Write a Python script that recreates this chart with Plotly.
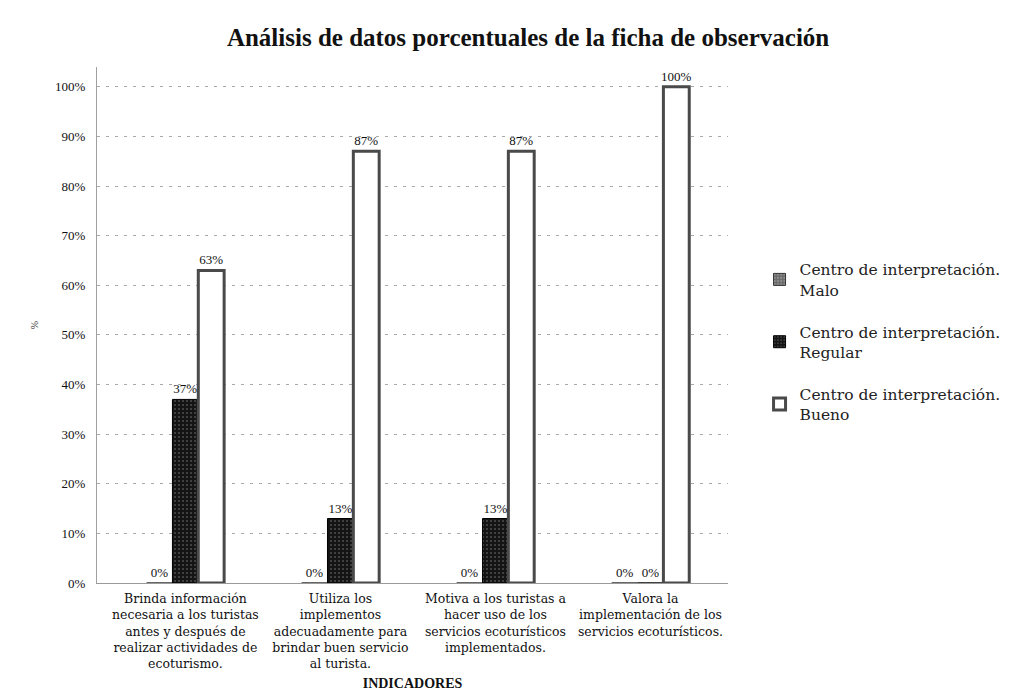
import plotly.graph_objects as go

title = "Análisis de datos porcentuales de la ficha de observación"
categories = [
    "Brinda información<br>necesaria a los turistas<br>antes y después de<br>realizar actividades de<br>ecoturismo.",
    "Utiliza los<br>implementos<br>adecuadamente para<br>brindar buen servicio<br>al turista.",
    "Motiva a los turistas a<br>hacer uso de los<br>servicios ecoturísticos<br>implementados.",
    "Valora la<br>implementación de los<br>servicios ecoturísticos.",
]
series_names = [
    "Centro de interpretación.<br>Malo",
    "Centro de interpretación.<br>Regular",
    "Centro de interpretación.<br>Bueno",
]
malo = [0, 0, 0, 0]
regular = [37, 13, 13, 0]
bueno = [63, 87, 87, 100]
y_ticks = list(range(0, 101, 10))
y_tick_labels = [f"{v}%" for v in y_ticks]

SERIF = "Liberation Serif, Times New Roman, serif"
WIDE_SERIF = "DejaVu Serif, serif"

styles = [
    dict(color="#6a6a6a", line=dict(color="#333333", width=1),
         pattern=dict(shape=".", fgcolor="#bbbbbb", size=4, solidity=0.3)),
    dict(color="#141414", line=dict(color="#000000", width=1),
         pattern=dict(shape=".", fgcolor="#8a8a8a", size=4, solidity=0.2)),
    dict(color="#ffffff", line=dict(color="#4a4a4a", width=3)),
]

fig = go.Figure()
for i, (name, vals) in enumerate(zip(series_names, [malo, regular, bueno])):
    fig.add_trace(go.Bar(
        x=list(range(len(categories))),
        y=vals,
        name=name,
        legendgroup=f"g{i}",
        marker=styles[i],
        text=[f"{v}%" for v in vals],
        textposition="outside",
        constraintext="none",
        textfont=dict(family=SERIF, size=13, color="#111111"),
        cliponaxis=False,
    ))

# the page body adds an 8px margin, so the figure is 8px smaller and shifted
fig.update_layout(
    width=1004,
    height=686,
    barmode="group",
    bargap=0.5,
    bargroupgap=0.0,
    plot_bgcolor="white",
    paper_bgcolor="white",
    margin=dict(l=89, r=284, t=59, b=111, autoexpand=False),
    title=dict(text=f"<b>{title}</b>", x=0.518, xanchor="center", y=0.958,
               yanchor="middle", font=dict(family=SERIF, size=25, color="#111111")),
    font=dict(family=SERIF, color="#111111"),
    legend=dict(x=1.05, y=0.64, xanchor="left", yanchor="top",
                font=dict(family=WIDE_SERIF, size=15.5, color="#222222"),
                tracegroupgap=19, itemwidth=30, traceorder="grouped",
                bgcolor="rgba(0,0,0,0)"),
)

fig.update_xaxes(
    automargin=False,
    tickmode="array",
    tickvals=list(range(len(categories))),
    ticktext=categories,
    range=[-0.57, 3.5],
    tickfont=dict(family=WIDE_SERIF, size=12.5, color="#111111"),
    ticklabelstandoff=4,
    showline=True, linecolor="#9a9a9a", linewidth=1,
    showgrid=False, ticks="",
    title=dict(text="<b>INDICADORES</b>", font=dict(family=SERIF, size=14, color="#111111"),
               standoff=8),
)
fig.update_yaxes(
    automargin=False,
    range=[0, 104],
    tickmode="array",
    tickvals=y_ticks,
    ticktext=y_tick_labels,
    tickfont=dict(family=SERIF, size=13, color="#111111"),
    ticklabelstandoff=8,
    showgrid=True, gridcolor="#a8a8a8", griddash="3px,6px", gridwidth=1,
    showline=True, linecolor="#a0a0a0", linewidth=1,
    zeroline=False, ticks="",
    title=dict(text="%", font=dict(family=SERIF, size=10, color="#333333"), standoff=14),
)

fig.write_html("out.html")
